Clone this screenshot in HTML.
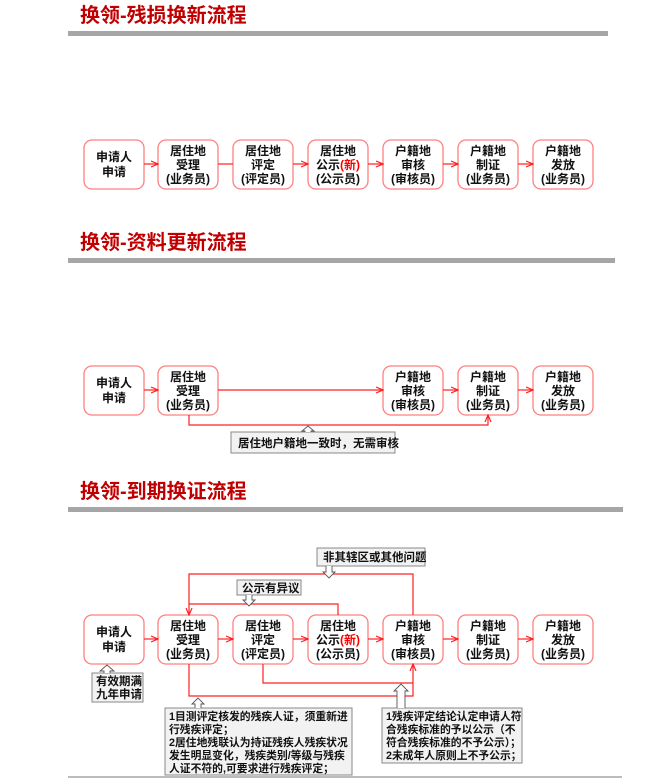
<!DOCTYPE html>
<html><head><meta charset="utf-8"><style>
body{margin:0;background:#fff;}
svg{display:block;font-family:"Liberation Sans","Noto Sans CJK SC",sans-serif;}
.t{font-size:20px;font-weight:bold;fill:#c00000;}
.b{fill:#fff;stroke:#ff7f7f;stroke-width:1.3;}
.bt{font-size:12px;font-weight:bold;fill:#111;text-anchor:middle;}
.r{stroke:#ff2020;stroke-width:1.2;fill:none;}
.n{fill:#f2f2f2;stroke:#888;stroke-width:1;}
.nt{font-size:11.5px;font-weight:bold;fill:#111;}
.ns{font-size:10.8px;font-weight:bold;fill:#111;}
.h{fill:#fff;stroke:#555;stroke-width:0.9;}
</style></head><body>
<svg width="668" height="779" viewBox="0 0 668 779">
<defs><marker id="a" markerWidth="8" markerHeight="8" refX="7" refY="4" orient="auto" markerUnits="userSpaceOnUse"><path d="M0,1 L7,4 L0,7" fill="none" stroke="#ff2020" stroke-width="1.2"/></marker></defs>

<text class="t" x="80" y="22">换领-残损换新流程</text>
<rect x="68" y="31" width="540" height="5" fill="#a6a6a6"/>
<rect class="b" x="84" y="140" width="60" height="49" rx="8"/>
<rect class="b" x="158" y="140" width="60" height="49" rx="8"/>
<rect class="b" x="233" y="140" width="60" height="49" rx="8"/>
<rect class="b" x="308" y="140" width="60" height="49" rx="8"/>
<rect class="b" x="383" y="140" width="60" height="49" rx="8"/>
<rect class="b" x="458" y="140" width="60" height="49" rx="8"/>
<rect class="b" x="533" y="140" width="60" height="49" rx="8"/>
<text class="bt"><tspan x="114" y="161">申请人</tspan><tspan x="114" y="176">申请</tspan></text>
<text class="bt"><tspan x="188" y="155">居住地</tspan><tspan x="188" y="169">受理</tspan><tspan x="188" y="183">(业务员)</tspan></text>
<text class="bt"><tspan x="263" y="155">居住地</tspan><tspan x="263" y="169">评定</tspan><tspan x="263" y="183">(评定员)</tspan></text>
<text class="bt"><tspan x="338" y="155">居住地</tspan><tspan x="338" y="169">公示<tspan fill="#ff0000">(新)</tspan></tspan><tspan x="338" y="183">(公示员)</tspan></text>
<text class="bt"><tspan x="413" y="155">户籍地</tspan><tspan x="413" y="169">审核</tspan><tspan x="413" y="183">(审核员)</tspan></text>
<text class="bt"><tspan x="488" y="155">户籍地</tspan><tspan x="488" y="169">制证</tspan><tspan x="488" y="183">(业务员)</tspan></text>
<text class="bt"><tspan x="563" y="155">户籍地</tspan><tspan x="563" y="169">发放</tspan><tspan x="563" y="183">(业务员)</tspan></text>
<line class="r" x1="144" y1="164" x2="158" y2="164" marker-end="url(#a)"/>
<line class="r" x1="218" y1="164" x2="233" y2="164"/>
<line class="r" x1="293" y1="164" x2="308" y2="164" marker-end="url(#a)"/>
<line class="r" x1="368" y1="164" x2="383" y2="164" marker-end="url(#a)"/>
<line class="r" x1="443" y1="164" x2="458" y2="164" marker-end="url(#a)"/>
<line class="r" x1="518" y1="164" x2="533" y2="164" marker-end="url(#a)"/>

<text class="t" x="80" y="249">换领-资料更新流程</text>
<rect x="68" y="258" width="547" height="5" fill="#a6a6a6"/>
<rect class="b" x="84" y="366" width="60" height="49" rx="8"/>
<rect class="b" x="158" y="366" width="60" height="49" rx="8"/>
<rect class="b" x="383" y="366" width="60" height="49" rx="8"/>
<rect class="b" x="458" y="366" width="60" height="49" rx="8"/>
<rect class="b" x="533" y="366" width="60" height="49" rx="8"/>
<text class="bt"><tspan x="114" y="387">申请人</tspan><tspan x="114" y="402">申请</tspan></text>
<text class="bt"><tspan x="188" y="381">居住地</tspan><tspan x="188" y="395">受理</tspan><tspan x="188" y="409">(业务员)</tspan></text>
<text class="bt"><tspan x="413" y="381">户籍地</tspan><tspan x="413" y="395">审核</tspan><tspan x="413" y="409">(审核员)</tspan></text>
<text class="bt"><tspan x="488" y="381">户籍地</tspan><tspan x="488" y="395">制证</tspan><tspan x="488" y="409">(业务员)</tspan></text>
<text class="bt"><tspan x="563" y="381">户籍地</tspan><tspan x="563" y="395">发放</tspan><tspan x="563" y="409">(业务员)</tspan></text>
<line class="r" x1="144" y1="390" x2="158" y2="390" marker-end="url(#a)"/>
<line class="r" x1="218" y1="390" x2="383" y2="390" marker-end="url(#a)"/>
<line class="r" x1="443" y1="390" x2="458" y2="390" marker-end="url(#a)"/>
<line class="r" x1="518" y1="390" x2="533" y2="390" marker-end="url(#a)"/>
<polyline class="r" points="189,415 189,425 488,425 488,415" marker-end="url(#a)"/>
<rect class="n" x="231" y="432" width="164" height="21"/>
<text class="nt" x="238" y="447">居住地户籍地一致时，无需审核</text>
<path class="h" d="M305,432 V431 H302 L308,426 L314,431 H311 V432"/>

<text class="t" x="80" y="498">换领-到期换证流程</text>
<rect x="68" y="507" width="555" height="5" fill="#a6a6a6"/>
<rect class="b" x="84" y="615" width="60" height="49" rx="8"/>
<rect class="b" x="158" y="615" width="60" height="49" rx="8"/>
<rect class="b" x="233" y="615" width="60" height="49" rx="8"/>
<rect class="b" x="308" y="615" width="60" height="49" rx="8"/>
<rect class="b" x="383" y="615" width="60" height="49" rx="8"/>
<rect class="b" x="458" y="615" width="60" height="49" rx="8"/>
<rect class="b" x="533" y="615" width="60" height="49" rx="8"/>
<text class="bt"><tspan x="114" y="636">申请人</tspan><tspan x="114" y="651">申请</tspan></text>
<text class="bt"><tspan x="188" y="630">居住地</tspan><tspan x="188" y="644">受理</tspan><tspan x="188" y="658">(业务员)</tspan></text>
<text class="bt"><tspan x="263" y="630">居住地</tspan><tspan x="263" y="644">评定</tspan><tspan x="263" y="658">(评定员)</tspan></text>
<text class="bt"><tspan x="338" y="630">居住地</tspan><tspan x="338" y="644">公示<tspan fill="#ff0000">(新)</tspan></tspan><tspan x="338" y="658">(公示员)</tspan></text>
<text class="bt"><tspan x="413" y="630">户籍地</tspan><tspan x="413" y="644">审核</tspan><tspan x="413" y="658">(审核员)</tspan></text>
<text class="bt"><tspan x="488" y="630">户籍地</tspan><tspan x="488" y="644">制证</tspan><tspan x="488" y="658">(业务员)</tspan></text>
<text class="bt"><tspan x="563" y="630">户籍地</tspan><tspan x="563" y="644">发放</tspan><tspan x="563" y="658">(业务员)</tspan></text>
<line class="r" x1="144" y1="639" x2="158" y2="639" marker-end="url(#a)"/>
<line class="r" x1="218" y1="639" x2="233" y2="639" marker-end="url(#a)"/>
<line class="r" x1="293" y1="639" x2="308" y2="639" marker-end="url(#a)"/>
<line class="r" x1="368" y1="639" x2="383" y2="639" marker-end="url(#a)"/>
<line class="r" x1="443" y1="639" x2="458" y2="639" marker-end="url(#a)"/>
<line class="r" x1="518" y1="639" x2="533" y2="639" marker-end="url(#a)"/>
<polyline class="r" points="413,615 413,574 189,574 189,615" marker-end="url(#a)"/>
<polyline class="r" points="338,615 338,604 189,604"/>
<polyline class="r" points="263,664 263,683 413,683"/>
<polyline class="r" points="189,664 189,696 413,696 413,664" marker-end="url(#a)"/>

<rect class="n" x="317" y="548" width="108" height="18"/>
<text class="nt" x="323" y="561">非其辖区或其他问题</text>
<path class="h" d="M326,566 V572 H323 L329,578 L335,572 H332 V566"/>
<rect class="n" x="237" y="580" width="64" height="15"/>
<text class="nt" x="242" y="592">公示有异议</text>
<path class="h" d="M246,595 V600 H243 L249,606 L255,600 H252 V595"/>
<rect class="n" x="92" y="673" width="51" height="29"/>
<text class="nt"><tspan x="96" y="685">有效期满</tspan><tspan x="96" y="698">九年申请</tspan></text>
<path class="h" d="M104,673 V671 H100 L107,665 L114,671 H110 V673"/>
<rect class="n" x="165" y="708" width="187" height="67"/>
<text class="ns"><tspan x="169" y="720">1目测评定核发的残疾人证，须重新进</tspan><tspan x="169" y="733">行残疾评定；</tspan><tspan x="169" y="746">2居住地残联认为持证残疾人残疾状况</tspan><tspan x="169" y="759">发生明显变化，残疾类别/等级与残疾</tspan><tspan x="169" y="772">人证不符的,可要求进行残疾评定；</tspan></text>
<path class="h" d="M195,708 V704 H192 L198,698 L204,704 H201 V708"/>
<rect class="n" x="382" y="708" width="140" height="55"/>
<text class="ns"><tspan x="386" y="720">1残疾评定结论认定申请人符</tspan><tspan x="386" y="733">合残疾标准的予以公示（不</tspan><tspan x="386" y="746">符合残疾标准的不予公示）；</tspan><tspan x="386" y="759">2未成年人原则上不予公示；</tspan></text>
<path class="h" d="M397,708 V691 H394 L401,684 L408,691 H405 V708"/>
<line x1="68" y1="777" x2="622" y2="777" stroke="#a6a6a6" stroke-width="1.5"/>
</svg>
</body></html>
